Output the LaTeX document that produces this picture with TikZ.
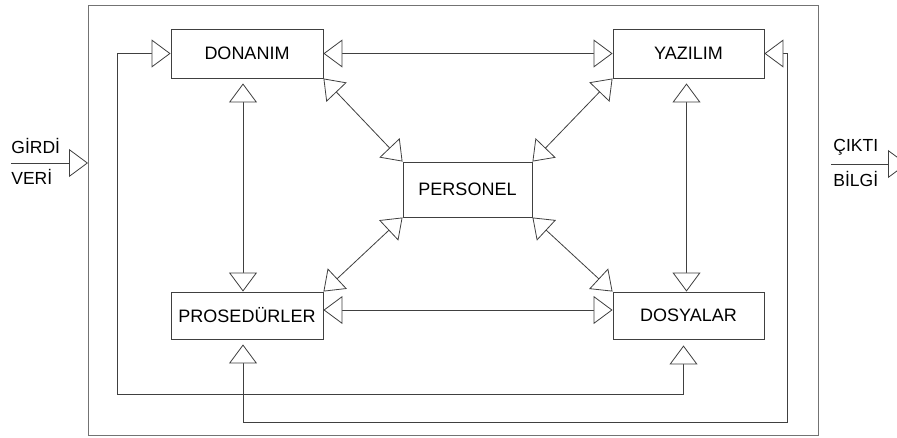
\documentclass[tikz,border=0pt]{standalone}
\usepackage{fontspec}
\setmainfont{Liberation Sans}
\usetikzlibrary{arrows.meta,calc}
\tikzset{tri/.tip={Triangle[length=19pt,width=28pt,fill=white,line width=0.8pt]}}
\begin{document}
\begin{tikzpicture}[x=1pt,y=-1pt,
  line width=0.8pt,
  lc/.style={draw=black!75},
  box/.style={draw=black!75, line width=0.9pt, inner sep=0pt, font=\fontsize{18}{21}\selectfont, text=black},
  dbl/.style={lc, tri-tri},
  sgl/.style={lc, -tri},
  lab/.style={font=\fontsize{17.5}{20}\selectfont, inner sep=0pt, anchor=west, text=black}
]
\useasboundingbox (0,0) rectangle (897,437);
\fill[white] (0,0) rectangle (897,437);
% outer frame
\draw[draw=black!55, line width=1pt] (88,5) rectangle (818,435);

% boxes
\node[box, minimum width=152pt, minimum height=49pt] (don) at (247,53.5) {DONANIM};
\node[box, minimum width=151pt, minimum height=49pt] (yaz) at (688.5,53.5) {YAZILIM};
\node[box, minimum width=152pt, minimum height=47pt] (pro) at (247,315.5) {PROSEDÜRLER};
\node[box, minimum width=151pt, minimum height=47pt] (dos) at (688.5,315.5) {DOSYALAR};
\node[box, minimum width=129pt, minimum height=55pt] (per) at (467.5,189.5) {PERSONEL};

% horizontal links
\draw[dbl] (don.east) -- (yaz.west);
\draw[dbl] ([yshift=5.5pt]pro.east) -- ([yshift=5.5pt]dos.west);
% vertical links
\draw[dbl, shorten <=5pt] ([xshift=-4pt]don.south) -- ([xshift=-4pt]pro.north);
\draw[dbl, shorten <=5pt] ([xshift=-2pt]yaz.south) -- ([xshift=-2pt]dos.north);
% diagonal links
\draw[dbl] (don.south east) -- (per.north west);
\draw[dbl] (yaz.south west) -- (per.north east);
\draw[dbl] (pro.north east) -- (per.south west);
\draw[dbl] (dos.north west) -- (per.south east);

% feedback loops
\coordinate (a1) at (117,53.5);
\coordinate (a2) at (117,394);
\coordinate (b1) at (787,53.5);
\coordinate (b2) at (787,422);
\draw[dbl, shorten <=6pt] ([xshift=-5pt]dos.south) |- (a2) -- (a1) -- (don.west);
\draw[dbl, shorten <=5pt] ([xshift=-4pt]pro.south) |- (b2) -- (b1) -- (yaz.east);

% input
\coordinate (in0) at (11,163);
\coordinate (in1) at (88,163);
\draw[sgl] (in0) -- (in1);
\node[lab] (girdi) at (11,146) {GİRDİ};
\node[lab] (veri) at (11,177) {VERİ};

% output
\coordinate (out0) at (831,164);
\coordinate (out1) at (907,164);
\draw[sgl] (out0) -- (out1);
\node[lab] (cikti) at (833,147) {ÇIKTI};
\node[lab] (bilgi) at (833,179) {BİLGİ};
\end{tikzpicture}
\end{document}
